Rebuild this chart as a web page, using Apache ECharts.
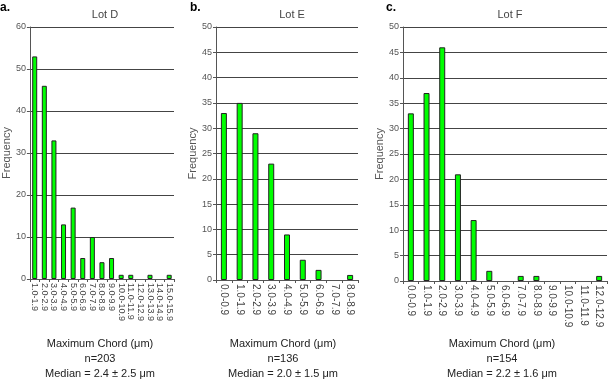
<!DOCTYPE html>
<html>
<head>
<meta charset="utf-8">
<script src="https://cdn.jsdelivr.net/npm/echarts@6/dist/echarts.min.js"></script>
<style>
  html, body { margin: 0; padding: 0; background: #fff; }
  #main { width: 609px; height: 379px; }
</style>
</head>
<body>
<div id="main"></div>
<script>
  // categories (chord length bins, um)
  var binsD = ['1.0-1.9', '2.0-2.9', '3.0-3.9', '4.0-4.9', '5.0-5.9', '6.0-6.9', '7.0-7.9', '8.0-8.9',
    '9.0-9.9', '10.0-10.9', '11.0-11.9', '12.0-12.9', '13.0-13.9', '14.0-14.9', '15.0-15.9'];
  var binsE = ['0.0-0.9', '1.0-1.9', '2.0-2.9', '3.0-3.9', '4.0-4.9', '5.0-5.9', '6.0-6.9', '7.0-7.9', '8.0-8.9'];
  var binsF = ['0.0-0.9', '1.0-1.9', '2.0-2.9', '3.0-3.9', '4.0-4.9', '5.0-5.9', '6.0-6.9', '7.0-7.9',
    '8.0-8.9', '9.0-9.9', '10.0-10.9', '11.0-11.9', '12.0-12.9'];

  // frequencies
  var freqD = [53, 46, 33, 13, 17, 5, 10, 4, 5, 1, 1, 0, 1, 0, 1];
  var freqE = [33, 35, 29, 23, 9, 4, 2, 0, 1];
  var freqF = [33, 37, 46, 21, 12, 2, 0, 1, 1, 0, 0, 0, 1];

  // panel texts
  var lots = ['Lot D', 'Lot E', 'Lot F'];
  var letters = ['a.', 'b.', 'c.'];
  var nCounts = ['n=203', 'n=136', 'n=154'];
  var medians = ['Median = 2.4 \u00b1 2.5 \u03bcm', 'Median = 2.0 \u00b1 1.5 \u03bcm', 'Median = 2.2 \u00b1 1.6 \u03bcm'];

  var grids = [
    { left: 26, top: 27, width: 148, height: 252 },
    { left: 216, top: 27, width: 142, height: 253 },
    { left: 403, top: 27, width: 204, height: 254 }
  ];
  var yMax = [60, 50, 50];
  var yStep = [10, 5, 5];
  var cats = [binsD, binsE, binsF];
  var vals = [freqD, freqE, freqF];
  var nameGaps = [16, 17, 14];

  var font = 'Arial, "Liberation Sans", sans-serif';

  var xAxes = [], yAxes = [], series = [], titles = [], texts = [];
  for (var i = 0; i < 3; i++) {
    var g = grids[i];
    xAxes.push({
      type: 'category',
      gridIndex: i,
      data: cats[i],
      axisLine: { lineStyle: { color: '#555', width: 1 } },
      axisTick: { show: true, length: 3, lineStyle: { color: '#555' } },
      axisLabel: {
        rotate: -90, interval: 0, margin: 4,
        fontSize: i === 0 ? 9 : 10, color: '#444', fontFamily: font
      }
    });
    yAxes.push({
      type: 'value',
      gridIndex: i,
      min: 0, max: yMax[i], interval: yStep[i],
      name: 'Frequency',
      nameLocation: 'middle',
      nameRotate: 90,
      nameGap: nameGaps[i],
      nameTextStyle: { fontSize: 11, color: '#555', fontFamily: font },
      axisLine: { show: true, lineStyle: { color: '#555' } },
      axisTick: { show: true, length: 3, lineStyle: { color: '#555' } },
      axisLabel: { fontSize: 9, color: '#555', margin: 4, fontFamily: font },
      splitLine: { lineStyle: { color: '#444', width: 1 } }
    });
    series.push({
      type: 'bar',
      xAxisIndex: i,
      yAxisIndex: i,
      // empty bins draw nothing
      data: vals[i].map(function (v) { return v === 0 ? '-' : v; }),
      barWidth: i === 0 ? 5 : 6,
      itemStyle: { color: '#00ff00', borderColor: '#222', borderWidth: 1 }
    });
    var cx = g.left + g.width / 2;
    titles.push({
      text: lots[i], left: cx, top: 4, textAlign: 'center',
      textStyle: { fontSize: 11, fontWeight: 'normal', color: '#444', fontFamily: font }
    });
    texts.push({
      type: 'text', left: [0, 190, 386][i], top: 2,
      style: { text: letters[i], fontSize: 12, fontWeight: 'bold', fill: '#000', fontFamily: font }
    });
    var bx = [100, 283, 502][i];
    texts.push({
      type: 'text', x: bx, y: 336,
      style: {
        text: 'Maximum Chord (\u03bcm)\n' + nCounts[i] + '\n' + medians[i],
        align: 'center', lineHeight: 15, fontSize: 11, fill: '#222', fontFamily: font
      }
    });
  }

  var chart = echarts.init(document.getElementById('main'));
  chart.setOption({
    animation: false,
    backgroundColor: '#fff',
    title: titles,
    grid: grids,
    xAxis: xAxes,
    yAxis: yAxes,
    series: series,
    graphic: texts
  });
  window.addEventListener('resize', function () {
    chart.resize();
  });
</script>
</body>
</html>
